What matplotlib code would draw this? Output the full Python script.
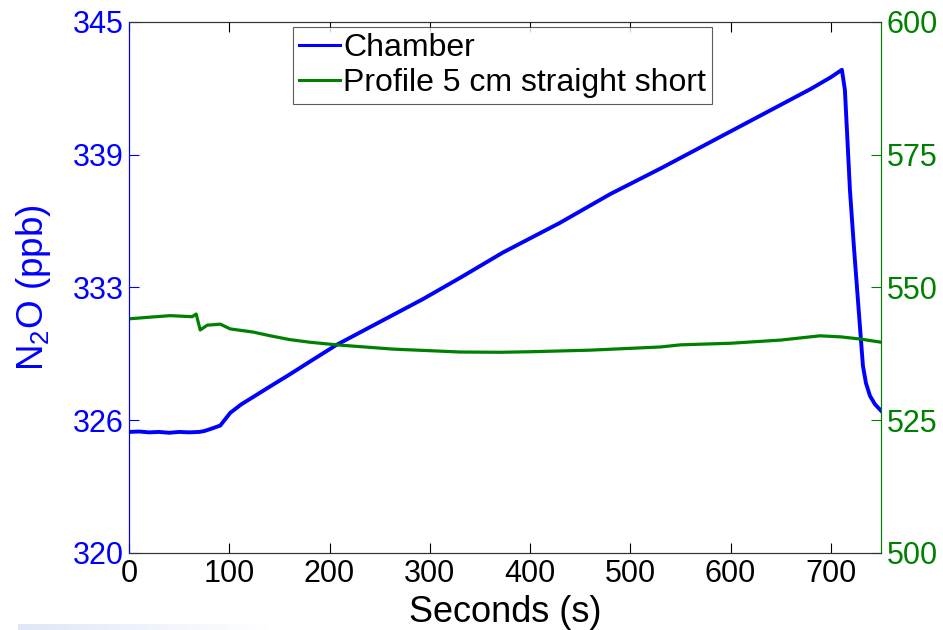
import numpy as np
import matplotlib
matplotlib.use('Agg')
import matplotlib.pyplot as plt

plt.rcParams['font.family'] = ['Liberation Sans', 'DejaVu Sans']

# chamber N2O concentration (left axis, ppb)
chamber_t = [0, 10, 20, 30, 40, 50, 60, 70, 75, 82, 91, 101, 112, 124, 141,
             160, 180, 207, 235, 263, 293, 330, 373, 430, 480, 530, 580, 630,
             680, 700, 711, 714, 717, 719, 723, 727, 732, 735, 739, 744, 750]
chamber_ppb = [325.70, 325.72, 325.68, 325.70, 325.66, 325.70, 325.68, 325.70,
               325.74, 325.85, 326.0, 326.6, 327.0, 327.35, 327.85, 328.4,
               329.0, 329.8, 330.5, 331.2, 331.95, 332.95, 334.15, 335.55,
               336.9, 338.1, 339.35, 340.6, 341.85, 342.4, 342.75, 341.8,
               339.0, 337.1, 334.4, 331.9, 328.8, 328.0, 327.4, 327.0, 326.7]

# profile probe (right axis)
profile_t = [0, 20, 41, 63, 67, 71, 78, 91, 101, 124, 141, 160, 180, 207, 235,
             263, 300, 330, 370, 400, 460, 530, 550, 600, 650, 689, 710, 729, 750]
profile_ppb = [544.1, 544.4, 544.7, 544.5, 545.0, 542.0, 542.9, 543.1, 542.2,
               541.6, 540.9, 540.2, 539.7, 539.2, 538.8, 538.4, 538.1, 537.85,
               537.8, 537.9, 538.2, 538.8, 539.2, 539.5, 540.1, 540.9, 540.7,
               540.3, 539.7]

left_ticks = [320, 326.25, 332.5, 338.75, 345]
left_labels = ['320', '326', '333', '339', '345']
right_ticks = [500, 525, 550, 575, 600]
x_ticks = [0, 100, 200, 300, 400, 500, 600, 700]

blue = (0, 0, 1)
green = (0, 0.5, 0)

fig = plt.figure(figsize=(9.43, 6.3), dpi=100)
ax = fig.add_axes([129 / 943, 1 - 553 / 630, 752 / 943, 531 / 630])
ax2 = ax.twinx()

l1, = ax.plot(chamber_t, chamber_ppb, color=blue, lw=2.8, label='Chamber')
l2, = ax2.plot(profile_t, profile_ppb, color=green, lw=2.3,
               label='Profile 5 cm straight short')

ax.set_xlim(0, 750)
ax.set_ylim(320, 345)
ax2.set_ylim(500, 600)
ax.set_xticks(x_ticks)
ax.set_yticks(left_ticks)
ax.set_yticklabels(left_labels)
ax2.set_yticks(right_ticks)

ax.tick_params(axis='x', direction='in', length=7, labelsize=22, top=True,
               colors='black', pad=4)
ax.tick_params(axis='y', direction='in', length=7, labelsize=22,
               colors=blue, pad=4)
ax2.tick_params(axis='y', direction='in', length=7, labelsize=22,
                colors=green, pad=4)

for a in (ax, ax2):
    a.spines['top'].set_color('#333333')
    a.spines['bottom'].set_color('#333333')
    a.spines['left'].set_color(blue)
    a.spines['right'].set_color(green)
    for s in a.spines.values():
        s.set_linewidth(0.8)

ax.set_xlabel('Seconds (s)', fontsize=26, labelpad=5)
ax.set_ylabel(r'N$_\mathregular{2}$O (ppb)', fontsize=26.5, color=blue,
              labelpad=14)

leg = ax2.legend([l1, l2], [l1.get_label(), l2.get_label()],
                 loc='upper left', bbox_to_anchor=(0.218, 0.99),
                 fontsize=23, frameon=True, fancybox=False, borderpad=0.18,
                 handlelength=1.3, handletextpad=0.1, labelspacing=0.15,
                 borderaxespad=0)
leg.get_frame().set_edgecolor('#333333')
leg.get_frame().set_linewidth(0.8)
for h in leg.get_lines():
    h.set_linewidth(2.2)

# faint blue strip along the lower edge
strip = fig.add_axes([18 / 943, 0, 250 / 943, 6 / 630])
grad = np.linspace(0, 1, 256).reshape(1, -1)
strip.imshow(grad, aspect='auto', cmap=matplotlib.colors.LinearSegmentedColormap
             .from_list('fade', ['#dfe6f6', '#ffffff']))
strip.axis('off')

fig.savefig('out.png', dpi=100)
